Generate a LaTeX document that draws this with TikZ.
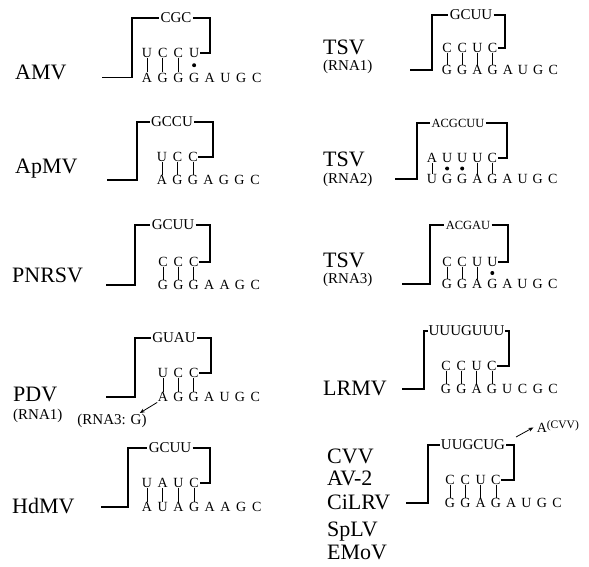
\documentclass[tikz,border=0pt]{standalone}
\usepackage{fontspec}
\setmainfont{Liberation Serif}
\usetikzlibrary{arrows.meta, calc}

\begin{document}
\begin{tikzpicture}[
		x=1pt, y=-1pt,
		nm/.style={
			font=\fontsize{22}{24}\selectfont,
			anchor=base west,
			inner sep=0pt
		},
		rna/.style={
			font=\fontsize{15}{17}\selectfont,
			anchor=base west,
			inner sep=0pt
		},
		nt/.style={
			font=\fontsize{14}{16}\selectfont,
			inner sep=0.6pt,
			text height=9.3pt,
			text depth=0pt
		},
		lp/.style={
			font=\fontsize{15}{17}\selectfont,
			inner sep=1.2pt,
			text height=9.9pt,
			text depth=0pt
		},
		small lp/.style={
			lp,
			font=\fontsize{12.5}{14}\selectfont,
			text height=8.3pt
		},
		strand/.style={
			line width=1.5pt
		},
		wc/.style={
			line width=0.8pt
		},
		gu/.style={
			circle,
			fill,
			inner sep=0pt,
			minimum size=4pt
		},
		fl/.style={
			-{Stealth[length=5pt,width=4pt]},
			line width=0.8pt
		}
		]
		\useasboundingbox (0,0) rectangle (589,567);
		
		% AMV
		\node[nm] (amv) at (15,80) {AMV};
		\foreach \n [count=\i] in {U,C,C,U}
			\node[nt] (amv-t\i) at ({147+15.7*(\i-1)},53) {\n};
		\foreach \n [count=\i] in {A,G,G,G,A,U,G,C}
			\node[nt] (amv-b\i) at ({147+15.7*(\i-1)},77.5) {\n};
		\foreach \i in {1,2,3}
			\draw[wc] (amv-t\i) -- (amv-b\i);
		\node[gu] (amv-d4) at ($(amv-t4)!0.5!(amv-b4)$) {};
		\coordinate (amv-in) at (102,77.5);
		\coordinate (amv-up) at (132,18);
		\coordinate (amv-dn) at (210,53);
		\node[lp] (amv-lp) at (176,18) {CGC};
		\draw[strand] (amv-in) -| (amv-up) -- (amv-lp);
		\draw[strand] (amv-lp) -| (amv-dn) -- (amv-t4);
		
		% ApMV
		\node[nm] (apmv) at (15,173) {ApMV};
		\foreach \n [count=\i] in {U,C,C}
			\node[nt] (apmv-t\i) at ({162+15.5*(\i-1)},157) {\n};
		\foreach \n [count=\i] in {A,G,G,A,G,G,C}
			\node[nt] (apmv-b\i) at ({162+15.5*(\i-1)},180) {\n};
		\foreach \i in {1,2,3}
			\draw[wc] (apmv-t\i) -- (apmv-b\i);
		\coordinate (apmv-in) at (107,180);
		\coordinate (apmv-up) at (137,122);
		\coordinate (apmv-dn) at (213,157);
		\node[lp] (apmv-lp) at (172,122) {GCCU};
		\draw[strand] (apmv-in) -| (apmv-up) -- (apmv-lp);
		\draw[strand] (apmv-lp) -| (apmv-dn) -- (apmv-t3);
		
		% PNRSV
		\node[nm] (pnrsv) at (12,282) {PNRSV};
		\foreach \n [count=\i] in {C,C,C}
			\node[nt] (pnrsv-t\i) at ({163+15.4*(\i-1)},262) {\n};
		\foreach \n [count=\i] in {G,G,G,A,A,G,C}
			\node[nt] (pnrsv-b\i) at ({163+15.4*(\i-1)},285) {\n};
		\foreach \i in {1,2,3}
			\draw[wc] (pnrsv-t\i) -- (pnrsv-b\i);
		\coordinate (pnrsv-in) at (106,285);
		\coordinate (pnrsv-up) at (135,225);
		\coordinate (pnrsv-dn) at (210,262);
		\node[lp] (pnrsv-lp) at (173,225) {GCUU};
		\draw[strand] (pnrsv-in) -| (pnrsv-up) -- (pnrsv-lp);
		\draw[strand] (pnrsv-lp) -| (pnrsv-dn) -- (pnrsv-t3);
		
		% PDV
		\node[nm] (pdv) at (13,401) {PDV};
		\node[rna] (pdv-rna) at (13,419) {(RNA1)};
		\foreach \n [count=\i] in {U,C,C}
			\node[nt] (pdv-t\i) at ({163+15.4*(\i-1)},373) {\n};
		\foreach \n [count=\i] in {A,G,G,A,U,G,C}
			\node[nt] (pdv-b\i) at ({163+15.4*(\i-1)},397) {\n};
		\foreach \i in {1,2,3}
			\draw[wc] (pdv-t\i) -- (pdv-b\i);
		\coordinate (pdv-in) at (106,397);
		\coordinate (pdv-up) at (135,338);
		\coordinate (pdv-dn) at (211,373);
		\node[lp] (pdv-lp) at (174,338) {GUAU};
		\draw[strand] (pdv-in) -| (pdv-up) -- (pdv-lp);
		\draw[strand] (pdv-lp) -| (pdv-dn) -- (pdv-t3);
		\node[rna, anchor=center] (pdv-note) at (112,421) {(RNA3: G)};
		\draw[fl] (pdv-b1.south west) -- ([xshift=-7pt,yshift=1pt]pdv-note.north east);
		
		% HdMV
		\node[nm] (hdmv) at (12,513) {HdMV};
		\foreach \n [count=\i] in {U,A,U,C}
			\node[nt] (hdmv-t\i) at ({147+15.7*(\i-1)},483) {\n};
		\foreach \n [count=\i] in {A,U,A,G,A,A,G,C}
			\node[nt] (hdmv-b\i) at ({147+15.7*(\i-1)},507) {\n};
		\foreach \i in {1,2,3,4}
			\draw[wc] (hdmv-t\i) -- (hdmv-b\i);
		\coordinate (hdmv-in) at (101,507);
		\coordinate (hdmv-up) at (128,448);
		\coordinate (hdmv-dn) at (210,483);
		\node[lp] (hdmv-lp) at (170,448) {GCUU};
		\draw[strand] (hdmv-in) -| (hdmv-up) -- (hdmv-lp);
		\draw[strand] (hdmv-lp) -| (hdmv-dn) -- (hdmv-t4);
		
		% TSV RNA1
		\node[nm] (tsv1) at (323,55) {TSV};
		\node[rna] (tsv1-rna) at (323,71) {(RNA1)};
		\foreach \n [count=\i] in {C,C,U,C}
			\node[nt] (tsv1-t\i) at ({447+15.2*(\i-1)},48) {\n};
		\foreach \n [count=\i] in {G,G,A,G,A,U,G,C}
			\node[nt] (tsv1-b\i) at ({447+15.2*(\i-1)},70) {\n};
		\foreach \i in {1,2,3,4}
			\draw[wc] (tsv1-t\i) -- (tsv1-b\i);
		\coordinate (tsv1-in) at (410,70);
		\coordinate (tsv1-up) at (432,15);
		\coordinate (tsv1-dn) at (505,48);
		\node[lp] (tsv1-lp) at (471,15) {GCUU};
		\draw[strand] (tsv1-in) -| (tsv1-up) -- (tsv1-lp);
		\draw[strand] (tsv1-lp) -| (tsv1-dn) -- (tsv1-t4);
		
		% TSV RNA2
		\node[nm] (tsv2) at (323,167) {TSV};
		\node[rna] (tsv2-rna) at (323,183) {(RNA2)};
		\foreach \n [count=\i] in {A,U,U,U,C}
			\node[nt] (tsv2-t\i) at ({432+15.1*(\i-1)},158) {\n};
		\foreach \n [count=\i] in {U,G,G,A,G,A,U,G,C}
			\node[nt] (tsv2-b\i) at ({432+15.1*(\i-1)},179) {\n};
		\foreach \i in {1,4,5}
			\draw[wc] (tsv2-t\i) -- (tsv2-b\i);
		\foreach \i in {2,3}
			\node[gu] (tsv2-d\i) at ($(tsv2-t\i)!0.5!(tsv2-b\i)$) {};
		\coordinate (tsv2-in) at (395,179);
		\coordinate (tsv2-up) at (417,123);
		\coordinate (tsv2-dn) at (507,158);
		\node[small lp] (tsv2-lp) at (458,123) {ACGCUU};
		\draw[strand] (tsv2-in) -| (tsv2-up) -- (tsv2-lp);
		\draw[strand] (tsv2-lp) -| (tsv2-dn) -- (tsv2-t5);
		
		% TSV RNA3
		\node[nm] (tsv3) at (323,267) {TSV};
		\node[rna] (tsv3-rna) at (323,283) {(RNA3)};
		\foreach \n [count=\i] in {C,C,U,U}
			\node[nt] (tsv3-t\i) at ({447+15.1*(\i-1)},262) {\n};
		\foreach \n [count=\i] in {G,G,A,G,A,U,G,C}
			\node[nt] (tsv3-b\i) at ({447+15.1*(\i-1)},284) {\n};
		\foreach \i in {1,2,3}
			\draw[wc] (tsv3-t\i) -- (tsv3-b\i);
		\node[gu] (tsv3-d4) at ($(tsv3-t4)!0.5!(tsv3-b4)$) {};
		\coordinate (tsv3-in) at (402,284);
		\coordinate (tsv3-up) at (430,225);
		\coordinate (tsv3-dn) at (508,262);
		\node[small lp] (tsv3-lp) at (468,225) {ACGAU};
		\draw[strand] (tsv3-in) -| (tsv3-up) -- (tsv3-lp);
		\draw[strand] (tsv3-lp) -| (tsv3-dn) -- (tsv3-t4);
		
		% LRMV
		\node[nm] (lrmv) at (323,395) {LRMV};
		\foreach \n [count=\i] in {C,C,U,C}
			\node[nt] (lrmv-t\i) at ({446+15.3*(\i-1)},366) {\n};
		\foreach \n [count=\i] in {G,G,A,G,U,C,G,C}
			\node[nt] (lrmv-b\i) at ({446+15.3*(\i-1)},389) {\n};
		\foreach \i in {1,2,3,4}
			\draw[wc] (lrmv-t\i) -- (lrmv-b\i);
		\coordinate (lrmv-in) at (402,389);
		\coordinate (lrmv-up) at (424,331);
		\coordinate (lrmv-dn) at (509,366);
		\node[lp, inner sep=0.5pt] (lrmv-lp) at (466.5,331) {UUUGUUU};
		\draw[strand] (lrmv-in) -| (lrmv-up) -- (lrmv-lp);
		\draw[strand] (lrmv-lp) -| (lrmv-dn) -- (lrmv-t4);
		
		% CVV, AV-2, CiLRV, SpLV, EMoV
		\node[nm] (cvv) at (327,463) {CVV};
		\node[nm] (av2) at (327,485) {AV-2};
		\node[nm] (cilrv) at (327,509) {CiLRV};
		\node[nm] (splv) at (327,536) {SpLV};
		\node[nm] (emov) at (327,559) {EMoV};
		\foreach \n [count=\i] in {C,C,U,C}
			\node[nt] (cvv-t\i) at ({450+15.3*(\i-1)},480) {\n};
		\foreach \n [count=\i] in {G,G,A,G,A,U,G,C}
			\node[nt] (cvv-b\i) at ({450+15.3*(\i-1)},503) {\n};
		\foreach \i in {1,2,3,4}
			\draw[wc] (cvv-t\i) -- (cvv-b\i);
		\coordinate (cvv-in) at (406,503);
		\coordinate (cvv-up) at (428,445);
		\coordinate (cvv-dn) at (514,480);
		\node[lp] (cvv-lp) at (473,445) {UUGCUG};
		\draw[strand] (cvv-in) -| (cvv-up) -- (cvv-lp);
		\draw[strand] (cvv-lp) -| (cvv-dn) -- (cvv-t4);
		\node[nt, anchor=base west, text height=] (cvv-note) at (536,432)
		{A\raisebox{4pt}{\fontsize{11.5}{12}\selectfont(CVV)}};
		\coordinate (cvv-from) at (516,437);
		\draw[fl, shorten >=3pt] (cvv-from) -- (cvv-note.west);
		
	\end{tikzpicture}
\end{document}
